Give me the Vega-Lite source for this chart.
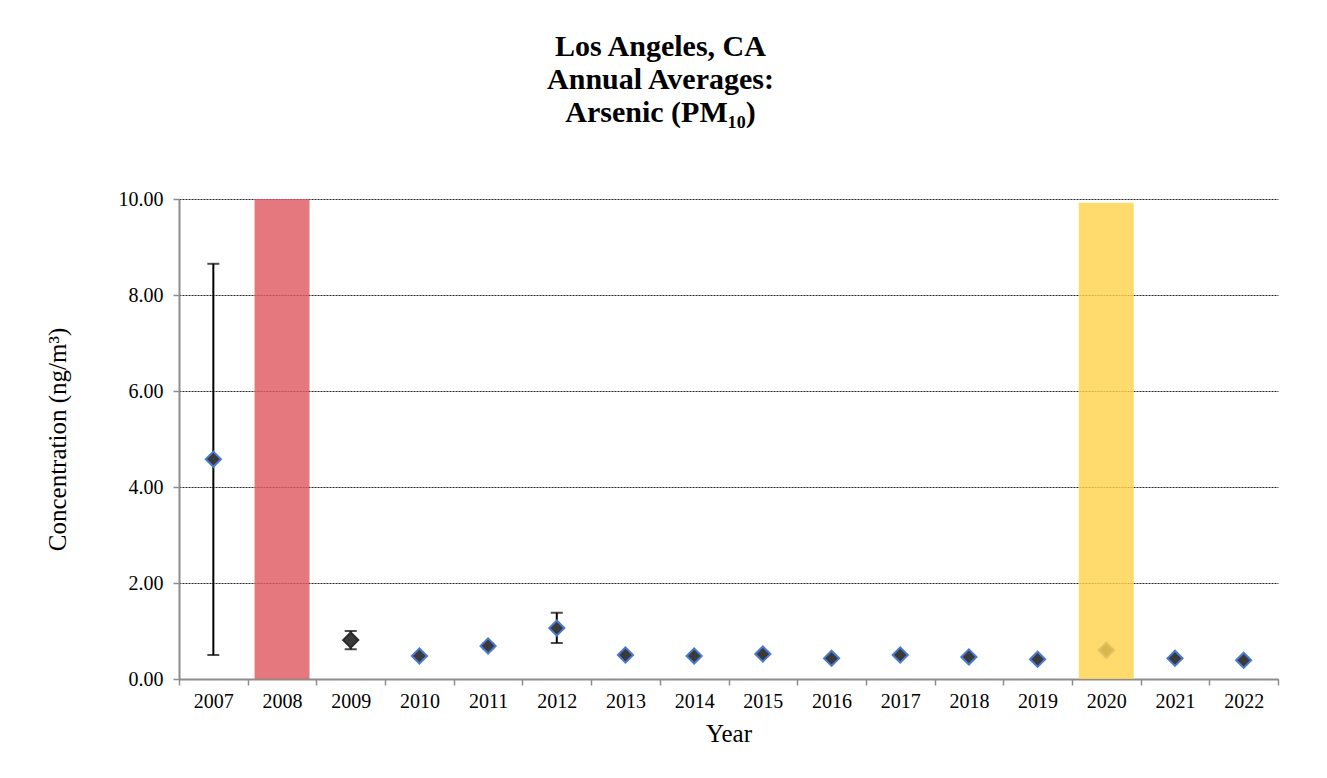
{
  "$schema": "https://vega.github.io/schema/vega-lite/v6.json",
  "width": 1099,
  "height": 480,
  "autosize": {"type": "none"},
  "padding": {"left": 179, "top": 199, "right": 49, "bottom": 99},
  "background": "white",
  "title": {
    "text": ["Los Angeles, CA", "Annual Averages:", "Arsenic (PM₁₀)"],
    "font": "Liberation Serif",
    "fontSize": 30,
    "fontWeight": "bold",
    "color": "black",
    "lineHeight": 33,
    "anchor": "middle",
    "frame": "group",
    "dx": -68,
    "offset": 61
  },
  "config": {
    "font": "Liberation Serif",
    "view": {"stroke": null},
    "axis": {
      "labelFont": "Liberation Serif",
      "titleFont": "Liberation Serif",
      "labelColor": "black",
      "titleColor": "black",
      "titleFontWeight": "normal",
      "domainColor": "#8c8c8c",
      "domainWidth": 2,
      "tickColor": "#8c8c8c",
      "tickWidth": 1.5
    },
    "axisX": {
      "grid": false,
      "labelAngle": 0,
      "tickBand": "extent",
      "tickSize": 6,
      "labelPadding": 6,
      "labelFontSize": 20,
      "titleFontSize": 25,
      "titlePadding": 10
    },
    "axisY": {
      "grid": true,
      "gridDash": [2, 1],
      "gridColor": "#202020",
      "gridWidth": 1,
      "tickSize": 6,
      "labelPadding": 10,
      "labelFontSize": 20,
      "titleFontSize": 25,
      "titlePadding": 48
    }
  },
  "datasets": {
    "main": [
      {"year": "2007", "value": 4.58, "lo": 0.50, "hi": 8.65},
      {"year": "2009", "value": 0.81, "lo": 0.62, "hi": 1.00},
      {"year": "2010", "value": 0.48, "lo": null, "hi": null},
      {"year": "2011", "value": 0.69, "lo": 0.64, "hi": 0.74},
      {"year": "2012", "value": 1.06, "lo": 0.75, "hi": 1.38},
      {"year": "2013", "value": 0.50, "lo": null, "hi": null},
      {"year": "2014", "value": 0.48, "lo": null, "hi": null},
      {"year": "2015", "value": 0.52, "lo": null, "hi": null},
      {"year": "2016", "value": 0.43, "lo": null, "hi": null},
      {"year": "2017", "value": 0.50, "lo": null, "hi": null},
      {"year": "2018", "value": 0.46, "lo": null, "hi": null},
      {"year": "2019", "value": 0.41, "lo": null, "hi": null},
      {"year": "2020", "value": 0.60, "lo": null, "hi": null},
      {"year": "2021", "value": 0.43, "lo": null, "hi": null},
      {"year": "2022", "value": 0.39, "lo": null, "hi": null}
    ],
    "bands": [
      {"year": "2008", "top": 10.0, "status": "excluded"},
      {"year": "2020", "top": 9.92, "status": "incomplete"}
    ]
  },
  "layer": [
    {
      "data": {"name": "main"},
      "transform": [{"filter": "isValid(datum.lo)"}],
      "mark": {"type": "rule", "color": "black", "strokeWidth": 2},
      "encoding": {
        "x": {
          "field": "year", "type": "ordinal", "title": "Year",
          "scale": {"type": "band", "domain": ["2007","2008","2009","2010","2011","2012","2013","2014","2015","2016","2017","2018","2019","2020","2021","2022"], "paddingInner": 0, "paddingOuter": 0}
        },
        "y": {
          "field": "lo", "type": "quantitative", "title": "Concentration (ng/m³)",
          "scale": {"domain": [0, 10], "nice": false},
          "axis": {"values": [0, 2, 4, 6, 8, 10], "format": ".2f"}
        },
        "y2": {"field": "hi"}
      }
    },
    {
      "data": {"name": "main"},
      "transform": [{"filter": "isValid(datum.lo)"}],
      "mark": {"type": "tick", "color": "black", "thickness": 2, "size": 12},
      "encoding": {
        "x": {"field": "year", "type": "ordinal", "title": "Year"},
        "y": {"field": "lo", "type": "quantitative", "title": "Concentration (ng/m³)"}
      }
    },
    {
      "data": {"name": "main"},
      "transform": [{"filter": "isValid(datum.hi)"}],
      "mark": {"type": "tick", "color": "black", "thickness": 2, "size": 12},
      "encoding": {
        "x": {"field": "year", "type": "ordinal", "title": "Year"},
        "y": {"field": "hi", "type": "quantitative", "title": "Concentration (ng/m³)"}
      }
    },
    {
      "data": {"name": "main"},
      "mark": {"type": "point", "shape": "diamond", "filled": true, "fill": "#3a3a3a", "size": 230, "strokeWidth": 2, "opacity": 1},
      "encoding": {
        "x": {"field": "year", "type": "ordinal", "title": "Year"},
        "y": {"field": "value", "type": "quantitative", "title": "Concentration (ng/m³)"},
        "stroke": {"condition": {"test": "datum.year === '2009'", "value": "#2a2a2a"}, "value": "#4a7bd0"}
      }
    },
    {
      "data": {"name": "bands"},
      "mark": {"type": "bar", "width": {"band": 0.8}, "opacity": 0.82},
      "encoding": {
        "x": {"field": "year", "type": "ordinal", "title": "Year"},
        "y": {"field": "top", "type": "quantitative", "title": "Concentration (ng/m³)"},
        "color": {"field": "status", "type": "nominal", "scale": {"domain": ["excluded", "incomplete"], "range": ["#DE5A62", "#FFD24D"]}, "legend": null}
      }
    }
  ]
}
